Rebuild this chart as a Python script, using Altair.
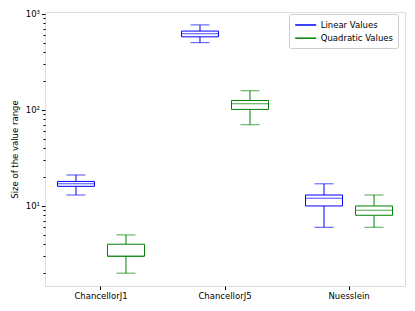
import altair as alt
import pandas as pd

categories = ["ChancellorJ1", "ChancellorJ5", "Nuesslein"]
series = ["Linear Values", "Quadratic Values"]
colors = ["#0000ff", "#008000"]

# per category: [Linear, Quadratic]
lo  = {"ChancellorJ1": [13, 2],  "ChancellorJ5": [500, 70],  "Nuesslein": [6, 6]}
q1  = {"ChancellorJ1": [16, 3],  "ChancellorJ5": [575, 101], "Nuesslein": [10, 8]}
med = {"ChancellorJ1": [17, 3],  "ChancellorJ5": [620, 116], "Nuesslein": [12, 9]}
q3  = {"ChancellorJ1": [18, 4],  "ChancellorJ5": [660, 125], "Nuesslein": [13, 10]}
hi  = {"ChancellorJ1": [21, 5],  "ChancellorJ5": [765, 158], "Nuesslein": [17, 13]}

y_ticks = [2, 3, 4, 5, 6, 7, 8, 9, 10, 20, 30, 40, 50, 60, 70, 80, 90,
           100, 200, 300, 400, 500, 600, 700, 800, 900, 1000]

rows = []
for c in categories:
    for i, s in enumerate(series):
        rows.append({"category": c, "series": s, "lo": lo[c][i], "q1": q1[c][i],
                     "med": med[c][i], "q3": q3[c][i], "hi": hi[c][i]})
df = pd.DataFrame(rows)

FONT = "DejaVu Sans"
FS = 8.5
is_major = "abs(log(datum.value)/LN10 - round(log(datum.value)/LN10)) < 0.000001"

yscale = alt.Scale(type="log", domain=[1.47, 1042], nice=False)
xenc = alt.X("category:N", sort=categories,
             scale=alt.Scale(paddingInner=0.1935, paddingOuter=0.048),
             axis=alt.Axis(title=None, labelAngle=0, tickSize=3.5, domain=False,
                           labelFont=FONT, labelFontSize=FS, labelColor="#000",
                           tickColor="#000", labelPadding=1.5, grid=False))
xoff = alt.XOffset("series:N", sort=series,
                   scale=alt.Scale(paddingInner=0.26, paddingOuter=0.13))
color = alt.Color("series:N", sort=series,
                  scale=alt.Scale(domain=series, range=colors),
                  legend=alt.Legend(title=None, orient="none", legendX=244, legendY=2,
                                    symbolType="M-2.1,0H2.1", symbolSize=100,
                                    symbolOffset=5.7,
                                    symbolStrokeWidth=1.5, labelFont=FONT,
                                    labelFontSize=FS, labelColor="#000",
                                    strokeColor="#cccccc", fillColor="#ffffff",
                                    cornerRadius=2, padding=5, rowPadding=2.2,
                                    labelOffset=9))
yaxis = alt.Axis(title="Size of the value range", titleFont=FONT, titleFontSize=FS,
                 titleFontWeight="normal", titleColor="#000", titlePadding=6,
                 values=y_ticks, grid=False, domain=False,
                 labelExpr="datum.value == 10 ? '10¹' : datum.value == 100 ? '10²' : datum.value == 1000 ? '10³' : ''",
                 labelFont=FONT, labelFontSize=FS, labelColor="#000", labelPadding=2,
                 tickColor="#000",
                 tickSize={"condition": {"test": is_major, "value": 3.5}, "value": 2})

base = alt.Chart(df).encode(x=xenc, xOffset=xoff, color=color)

box = base.mark_bar(filled=False, strokeWidth=1).encode(
    y=alt.Y("q1:Q", scale=yscale, axis=yaxis), y2="q3:Q")
median = base.mark_tick(size=37, thickness=1).encode(y=alt.Y("med:Q", scale=yscale))
wlo = base.mark_rule(strokeWidth=1).encode(y=alt.Y("lo:Q", scale=yscale), y2="q1:Q")
whi = base.mark_rule(strokeWidth=1).encode(y=alt.Y("q3:Q", scale=yscale), y2="hi:Q")
caplo = base.mark_tick(size=19, thickness=1).encode(y=alt.Y("lo:Q", scale=yscale))
caphi = base.mark_tick(size=19, thickness=1).encode(y=alt.Y("hi:Q", scale=yscale))

chart = alt.layer(box, wlo, whi, caplo, caphi, median).properties(
    width=360, height=274,
    autosize=alt.AutoSizeParams(type="none"),
    padding={"left": 37, "top": 4, "right": 2, "bottom": 17},
).configure_view(stroke="#000", strokeWidth=1).configure(background="white")

chart.save("out.html", embed_options={"renderer": "svg", "actions": False})
